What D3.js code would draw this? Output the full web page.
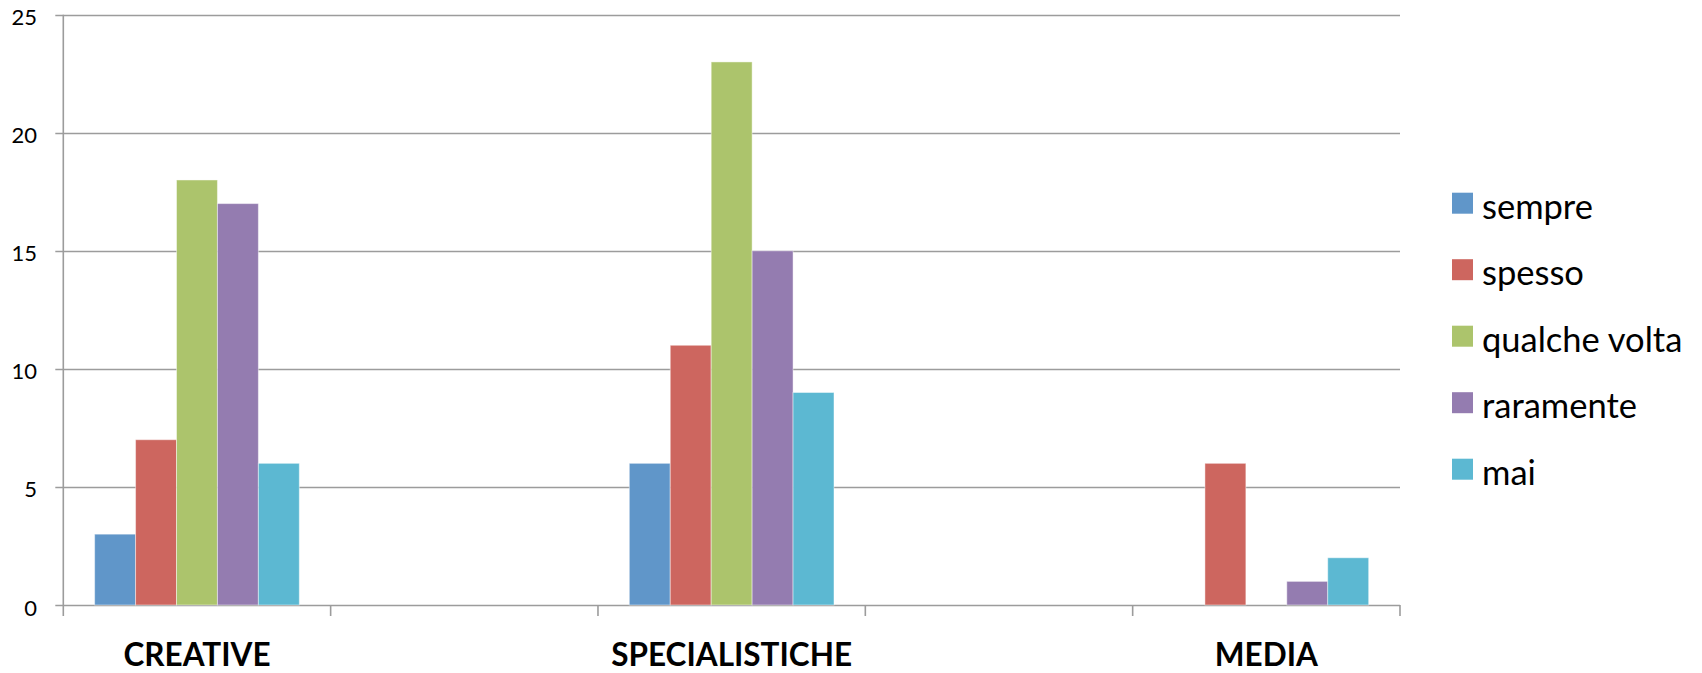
<!DOCTYPE html>
<html>
<head>
<meta charset="utf-8">
<script src="https://cdn.jsdelivr.net/npm/d3@7"></script>
<style>
  html, body { margin: 0; padding: 0; background: #fff; }
  svg { display: block; }
  text { font-family: Lato, "Open Sans", sans-serif; fill: #000; }
</style>
</head>
<body>
<svg id="chart" width="1702" height="673"></svg>
<script>
// Category groups along the x axis (two empty slots between labelled groups)
const categories = ["CREATIVE", "", "SPECIALISTICHE", "", "MEDIA"];
// Response frequency series
const seriesNames = ["sempre", "spesso", "qualche volta", "raramente", "mai"];
const sempre       = [3, null, 6, null, 0];
const spesso       = [7, null, 11, null, 6];
const qualcheVolta = [18, null, 23, null, 0];
const raramente    = [17, null, 15, null, 1];
const mai          = [6, null, 9, null, 2];
const seriesValues = [sempre, spesso, qualcheVolta, raramente, mai];
const seriesColors = ["#6096C9", "#CD665F", "#ACC46C", "#947CB0", "#5CB8D2"];
const yTicks = [0, 5, 10, 15, 20, 25];

const svg = d3.select("#chart");
const plot = { left: 63.3, right: 1400, top: 14.7, bottom: 605 };

const x = d3.scaleBand()
  .domain(d3.range(categories.length))
  .range([plot.left, plot.right])
  .paddingInner(0).paddingOuter(0);

const bandPad = x.bandwidth() * 0.1172;
const xs = d3.scaleBand()
  .domain(seriesNames)
  .range([bandPad, x.bandwidth() - bandPad]);

const y = d3.scaleLinear().domain([0, 25]).range([plot.bottom, plot.top]);

const gridColor = "#9c9c9c";

// Horizontal gridlines with short ticks out to the left
svg.append("g")
  .selectAll("line")
  .data(yTicks)
  .join("line")
  .attr("x1", plot.left - 8)
  .attr("x2", plot.right)
  .attr("y1", d => Math.round(y(d)) + 0.5)
  .attr("y2", d => Math.round(y(d)) + 0.5)
  .attr("stroke", gridColor)
  .attr("stroke-width", 1.6);

// Vertical axis line
svg.append("line")
  .attr("x1", plot.left).attr("x2", plot.left)
  .attr("y1", y(25)).attr("y2", y(0))
  .attr("stroke", gridColor).attr("stroke-width", 1.6);

// Category boundary ticks below the baseline
const boundaries = d3.range(categories.length + 1).map(i => plot.left + i * x.bandwidth());
svg.append("g")
  .selectAll("line")
  .data(boundaries)
  .join("line")
  .attr("x1", d => d).attr("x2", d => d)
  .attr("y1", y(0)).attr("y2", y(0) + 11)
  .attr("stroke", gridColor).attr("stroke-width", 1.6);

// Y tick labels
svg.append("g")
  .selectAll("text")
  .data(yTicks)
  .join("text")
  .attr("x", 37)
  .attr("y", d => y(d) + 10.5)
  .attr("text-anchor", "end")
  .style("font-size", "22px")
  .text(d => d);

// Bars
const barData = [];
categories.forEach((c, ci) => {
  seriesNames.forEach((s, si) => {
    const v = seriesValues[si][ci];
    if (v != null && v > 0) barData.push({ ci, s, si, v });
  });
});

svg.append("g")
  .selectAll("rect")
  .data(barData)
  .join("rect")
  .attr("x", d => x(d.ci) + xs(d.s))
  .attr("y", d => y(d.v))
  .attr("width", xs.bandwidth())
  .attr("height", d => y(0) - y(d.v))
  .attr("fill", d => seriesColors[d.si])
  .attr("stroke", "#ffffff")
  .attr("stroke-opacity", 0.45)
  .attr("stroke-width", 1);

// Category labels
svg.append("g")
  .selectAll("text")
  .data(categories)
  .join("text")
  .attr("x", (d, i) => x(i) + x.bandwidth() / 2)
  .attr("y", 666)
  .attr("text-anchor", "middle")
  .style("font-size", "31.5px")
  .style("font-weight", "bold")
  .text(d => d);

// Legend
const legend = svg.append("g");
const legendRow = 66.5;
seriesNames.forEach((s, i) => {
  legend.append("rect")
    .attr("x", 1452)
    .attr("y", 192.7 + i * legendRow)
    .attr("width", 21)
    .attr("height", 21)
    .attr("fill", seriesColors[i]);
  legend.append("text")
    .attr("x", 1482)
    .attr("y", 218.5 + i * legendRow)
    .style("font-size", "34.5px")
    .text(s);
});
</script>
</body>
</html>
